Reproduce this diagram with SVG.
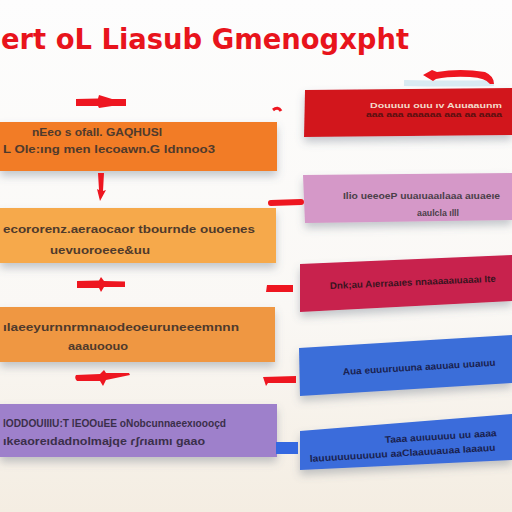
<svg xmlns="http://www.w3.org/2000/svg" width="512" height="512" viewBox="0 0 512 512">
<defs>
<linearGradient id="bg" x1="0" y1="0" x2="0" y2="1">
<stop offset="0" stop-color="#fdfdfd"/>
<stop offset="0.6" stop-color="#faf8f5"/>
<stop offset="1" stop-color="#f4ede2"/>
</linearGradient>
<filter id="sh" x="-10%" y="-20%" width="120%" height="160%">
<feDropShadow dx="0" dy="5" stdDeviation="4" flood-color="#5a6878" flood-opacity="0.35"/>
</filter>
</defs>
<style>
.t{font-family:"Liberation Sans",Arial,sans-serif;font-weight:bold;font-size:11.5px;fill:#4f3a2c}
.tr{font-family:"Liberation Sans",Arial,sans-serif;font-weight:bold;font-size:9.5px}
.ts{font-family:"Liberation Sans",Arial,sans-serif;font-weight:bold;font-size:8px}
.title{font-family:"DejaVu Sans","Liberation Sans",sans-serif;font-weight:bold;font-size:29px;fill:#e8141c}
.arw{fill:#ee1620}
.ln{stroke:#ee1620;stroke-width:6;stroke-linecap:round;fill:none}
</style>
<rect width="512" height="512" fill="url(#bg)"/>
<text class="title" x="1" y="49" textLength="408" lengthAdjust="spacingAndGlyphs">ert oL Liasub Gmenogxpht</text>

<g id="node-l1">
<rect x="0" y="122" width="277" height="49" fill="#f27c28" filter="url(#sh)"/>
<text class="t" x="32" y="136" textLength="130" lengthAdjust="spacingAndGlyphs">nEeo s ofall. GAQHUSI</text>
<text class="t" x="3" y="153" textLength="212" lengthAdjust="spacingAndGlyphs">L Ole:ıng men lecoawn.G ldnnoo3</text>
</g>
<g id="node-l2">
<rect x="0" y="208" width="276" height="55" fill="#f6a94b" filter="url(#sh)"/>
<text class="t" x="3" y="233" textLength="252" lengthAdjust="spacingAndGlyphs">ecororenz.aeraocaor tbournde ouoenes</text>
<text class="t" x="50" y="254" textLength="100" lengthAdjust="spacingAndGlyphs">uevuoroeee&amp;uu</text>
</g>
<g id="node-l3">
<rect x="0" y="307" width="275" height="55" fill="#ef9742" filter="url(#sh)"/>
<text class="t" x="3" y="331" textLength="236" lengthAdjust="spacingAndGlyphs">ılaeeyurnnrmnaıodeoeuruneeemnnn</text>
<text class="t" x="68" y="350" textLength="60" lengthAdjust="spacingAndGlyphs">aaauoouo</text>
</g>
<g id="node-l4">
<rect x="0" y="404" width="277" height="53" fill="#9e80cb" filter="url(#sh)"/>
<text class="t" x="3" y="427" textLength="223" lengthAdjust="spacingAndGlyphs" style="fill:#3b2f4a">lODDOUIIIU:T lEOOuEE oNobcunnaeexıoooçd</text>
<text class="t" x="3" y="445" textLength="202" lengthAdjust="spacingAndGlyphs" style="fill:#3b2f4a">ıkeaoreıdadnolmajqe ɾʃɾıaımı gaao</text>
</g>

<g id="node-r1">
<polygon points="305,90 512,88 512,135 304,137" fill="#d2161f" filter="url(#sh)"/>
<text class="ts" x="370" y="108" textLength="132" lengthAdjust="spacingAndGlyphs" style="fill:#f3dccb">Douuuu ouu ıv Auuaaunm</text>
<text class="ts" x="366" y="117" textLength="136" lengthAdjust="spacingAndGlyphs" style="fill:#5a1010">aaa aaa aaaaaa aaa aa aaaa</text>
</g>
<g id="node-r2">
<polygon points="303,175 512,173 512,220 305,223" fill="#d598c8" filter="url(#sh)"/>
<text class="tr" x="343" y="199" textLength="157" lengthAdjust="spacingAndGlyphs" style="fill:#4a4048">Ilio ueeoeP uuaıuaaılaaa aıuaeıe</text>
<text class="tr" x="417" y="216" textLength="42" lengthAdjust="spacingAndGlyphs" style="fill:#4a4048">aaulcla ılll</text>
</g>
<g id="node-r3">
<polygon points="300,264 512,255 512,301 300,312" fill="#c8204e" filter="url(#sh)"/>
<text class="tr" x="330" y="289" textLength="166" lengthAdjust="spacingAndGlyphs" transform="rotate(-2.5 330 289)" style="fill:#3a1420">Dnk;au Aıerraaıes nnaaaaaıuaaaı Ite</text>
</g>
<g id="node-r4">
<polygon points="299,348 512,335 512,383 300,396" fill="#3b6ed9" filter="url(#sh)"/>
<text class="tr" x="343" y="375" textLength="153" lengthAdjust="spacingAndGlyphs" transform="rotate(-3.5 343 375)" style="fill:#1a2250">Aua euuuruuuna aauuau uuaıuu</text>
</g>
<g id="node-r5">
<polygon points="300,431 512,414 512,460 300,470" fill="#3a6cdb" filter="url(#sh)"/>
<text class="tr" x="385" y="443" textLength="112" lengthAdjust="spacingAndGlyphs" transform="rotate(-3.5 385 443)" style="fill:#1a2250">Taaa auıuuuuu uu aaaa</text>
<text class="tr" x="310" y="462" textLength="186" lengthAdjust="spacingAndGlyphs" transform="rotate(-3.5 310 462)" style="fill:#1a2250">lauuuuuuuuuuu aaClaauuauaa Iaaauu</text>
</g>

<g id="connectors">
<path class="arw" d="M76,99 L98,98.5 L99,95 L112,99 L126,99 L126,106 L112,106 L99,108 L98,106 L76,106 Z"/>
<path class="arw" d="M98,173 L104,173 L103,191 L106,190 L100,201 L97,189 L99,190 Z"/>
<path class="arw" d="M77,281 L99,280.5 L101,277 L104,281 L125,281.5 L125,287 L104,287 L101,292 L99,288 L77,288 Z"/>
<path class="arw" d="M76,375 L100,374 L104,370 L106,373 L129,373 L130,375 L106,380 L103,386 L100,381 L77,381 Q74,378 76,375 Z"/>
<path d="M404,83 Q455,84 494,83" stroke="#cfe6f0" stroke-width="6" fill="none" opacity="0.8"/>
<path class="arw" d="M423,75 L432,70 L437,72 Q460,68 485,72 Q494,76 494,84 L490,84 Q486,78 470,77 Q450,76 436,79 L433,81 Z"/>
<path class="ln" d="M271,203 L301,202"/>
<path class="arw" d="M267,285 L293,285 L293,292 L266,292 Z"/>
<path class="arw" d="M263,377 L296,376 L296,383 L268,383 L266,386 Z"/>
<path d="M273,110 Q278,106 281,111" stroke="#ee1620" stroke-width="3" fill="none"/>
<rect x="276" y="442" width="22" height="12" fill="#3468e0"/>
</g>
</svg>
